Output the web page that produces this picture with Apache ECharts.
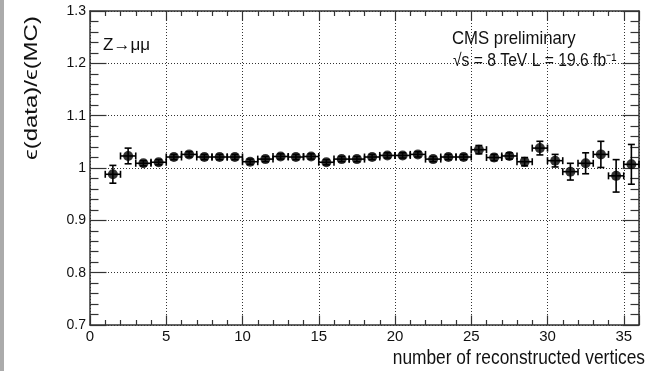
<!DOCTYPE html>
<html>
<head>
<meta charset="utf-8">
<script src="https://cdn.jsdelivr.net/npm/echarts@6/dist/echarts.min.js"></script>
<style>
html,body{margin:0;padding:0;background:#fff;}
#chart{width:648px;height:371px;}
</style>
</head>
<body>
<div id="chart"></div>
<script>
// ---- data ----
const binCenters = [1.5,2.5,3.5,4.5,5.5,6.5,7.5,8.5,9.5,10.5,11.5,12.5,13.5,14.5,15.5,16.5,17.5,18.5,19.5,20.5,21.5,22.5,23.5,24.5,25.5,26.5,27.5,28.5,29.5,30.5,31.5,32.5,33.5,34.5,35.5];
const effRatio   = [0.988,1.023,1.009,1.011,1.021,1.026,1.021,1.021,1.021,1.012,1.017,1.022,1.021,1.022,1.011,1.017,1.017,1.021,1.024,1.024,1.026,1.017,1.021,1.021,1.035,1.020,1.023,1.012,1.038,1.014,0.993,1.009,1.026,0.985,1.007];
const errRatio   = [0.017,0.015,0.005,0.005,0.005,0.005,0.005,0.005,0.005,0.005,0.005,0.005,0.005,0.005,0.005,0.005,0.005,0.005,0.005,0.005,0.005,0.005,0.005,0.005,0.008,0.006,0.006,0.008,0.013,0.012,0.016,0.020,0.025,0.031,0.038];
const binHalfWidth = [0.5,0.5,0.5,0.5,0.5,0.5,0.5,0.5,0.5,0.5,0.5,0.5,0.5,0.5,0.5,0.5,0.5,0.5,0.5,0.5,0.5,0.5,0.5,0.5,0.5,0.5,0.5,0.5,0.5,0.5,0.5,0.5,0.5,0.5,0.5];
const xTitle = 'number of reconstructed vertices';
const yTitle = '\u03F5(data)/\u03F5(MC)';
const channelLabel = 'Z\u2192\u03BC\u03BC';
const expLabel = 'CMS preliminary';
const lumiLabel = '\u221As = 8 TeV L = 19.6 fb\u207B\u00B9';

const SANS = '"Liberation Sans",Arial,sans-serif';
const AX = '#333';
const TXT = '#111';

const errData = binCenters.map((x, i) => [x, effRatio[i], errRatio[i], binHalfWidth[i]]);
const ptData = binCenters.map((x, i) => [x, effRatio[i]]);

function renderErr(params, api) {
  const x = api.value(0), y = api.value(1), ey = api.value(2), ex = api.value(3);
  const t = api.coord([x, y + ey]), b = api.coord([x, y - ey]);
  const l = api.coord([x - ex, y]), r = api.coord([x + ex, y]);
  const cap = 3.5;
  const st = {stroke: '#000', lineWidth: 1.6};
  const line = (x1, y1, x2, y2) => ({type: 'line', shape: {x1, y1, x2, y2}, style: st});
  return {type: 'group', children: [
    line(t[0], t[1], b[0], b[1]),
    line(t[0] - cap, t[1], t[0] + cap, t[1]),
    line(b[0] - cap, b[1], b[0] + cap, b[1]),
    line(l[0], l[1], r[0], r[1]),
    line(l[0], l[1] - cap, l[0], l[1] + cap),
    line(r[0], r[1] - cap, r[0], r[1] + cap)
  ]};
}

const baseX = {
  type: 'value', min: 0, max: 36, interval: 5,
  axisLine: {show: true, onZero: false, lineStyle: {color: AX, width: 1.5}},
  axisTick: {show: true, inside: true, length: 9.5, lineStyle: {color: AX, width: 1.2}},
  minorTick: {show: true, splitNumber: 5, length: 5, lineStyle: {color: AX, width: 1.2}},
  minorSplitLine: {show: false}
};
const baseY = {
  type: 'value', min: 0.7, max: 1.3, interval: 0.1,
  axisLine: {show: true, onZero: false, lineStyle: {color: AX, width: 1.5}},
  axisTick: {show: true, inside: true, length: 16.5, lineStyle: {color: AX, width: 1.2}},
  minorTick: {show: true, splitNumber: 5, length: 8.5, lineStyle: {color: AX, width: 1.2}},
  minorSplitLine: {show: false}
};

function txt(x, y, text, size, sx, align, extra) {
  return Object.assign({
    type: 'text', x: x, y: y, scaleX: sx, scaleY: 1, z: 100,
    style: {text: text, fontSize: size, fontFamily: SANS, fill: TXT,
      align: align, verticalAlign: 'middle', textAlign: align, textVerticalAlign: 'middle'}
  }, extra || {});
}

const option = {
  animation: false,
  backgroundColor: '#fff',
  grid: {left: 90, right: 9, top: 11, bottom: 46, containLabel: false},
  xAxis: [
    Object.assign({}, baseX, {
      position: 'bottom',
      splitLine: {show: true, lineStyle: {color: AX, width: 1, type: [1, 2]}},
      axisLabel: {show: true, margin: 4, color: TXT, fontFamily: SANS, fontSize: 15}
    }),
    Object.assign({}, baseX, {position: 'top', splitLine: {show: false}, axisLabel: {show: false}})
  ],
  yAxis: [
    Object.assign({}, baseY, {
      position: 'left',
      splitLine: {show: true, lineStyle: {color: AX, width: 1, type: [1, 2]}},
      axisLabel: {show: true, margin: 4, color: TXT, fontFamily: SANS, fontSize: 14, padding: [4, 0, 0, 0],
        formatter: v => String(Math.round(v * 10) / 10)}
    }),
    Object.assign({}, baseY, {position: 'right', splitLine: {show: false}, axisLabel: {show: false}})
  ],
  series: [
    {type: 'custom', renderItem: renderErr, data: errData, xAxisIndex: 0, yAxisIndex: 0, z: 3, clip: false,
      encode: {x: 0, y: 1}},
    {type: 'scatter', data: ptData, xAxisIndex: 0, yAxisIndex: 0, symbol: 'circle', symbolSize: 10,
      itemStyle: {color: '#000'}, z: 4}
  ],
  graphic: [
    {type: 'rect', left: 0, top: 0, shape: {x: 0, y: 0, width: 4, height: 371}, style: {fill: '#ababab'}, z: 100},
    {type: 'text', x: 32, y: 88, rotation: Math.PI / 2, scaleX: 1, scaleY: 0.75, z: 100,
      style: {text: yTitle, fontSize: 24, fontFamily: SANS, fill: TXT, align: 'center', verticalAlign: 'middle', textAlign: 'center', textVerticalAlign: 'middle'}},
    txt(645, 358, xTitle, 20, 0.866, 'right'),
    txt(103, 45, channelLabel, 17, 1, 'left'),
    txt(452, 39, expLabel, 18.5, 0.905, 'left'),
    txt(453, 61, lumiLabel, 18, 0.87, 'left')
  ]
};

const chart = echarts.init(document.getElementById('chart'), null, {renderer: 'canvas'});
chart.setOption(option);
</script>
</body>
</html>
